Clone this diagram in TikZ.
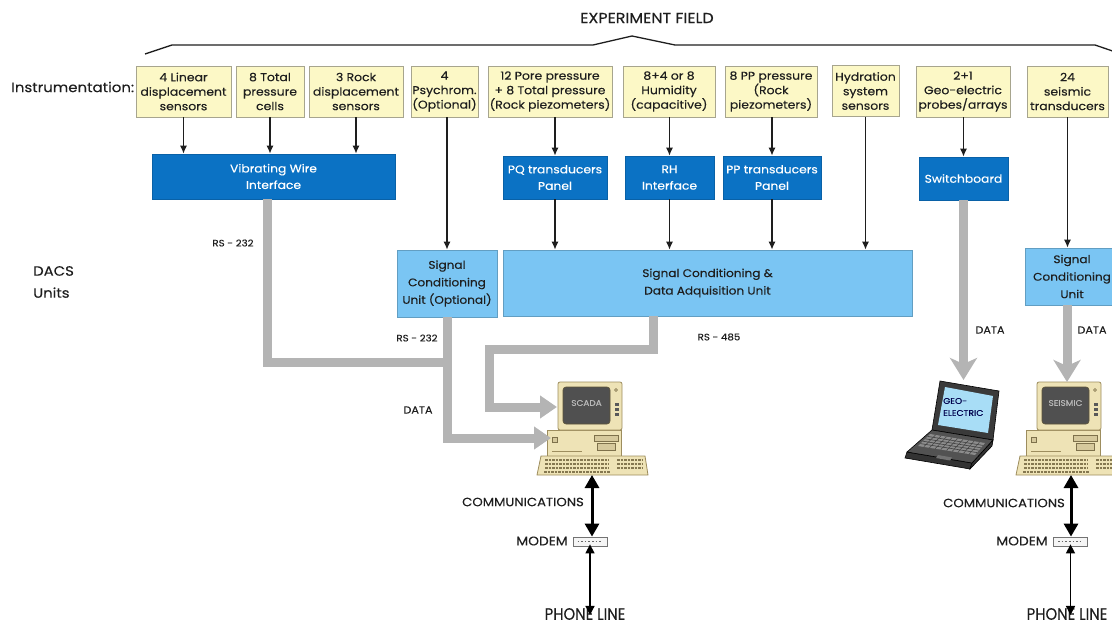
\documentclass[tikz,border=0pt]{standalone}
\usepackage{fontspec}
\setmainfont{Poppins}[FakeStretch=1.1,FakeBold=0.25]
\newfontfamily\narrowface{Poppins}[FakeStretch=0.9,FakeBold=0.25]
\usetikzlibrary{arrows.meta,calc}

\definecolor{ink}{HTML}{1E1E1E}
\definecolor{instfill}{HTML}{FCF8C6}
\definecolor{instedge}{HTML}{A7A58E}
\definecolor{darkblue}{HTML}{0B72C4}
\definecolor{lightblue}{HTML}{7AC5F3}
\definecolor{busgray}{HTML}{B4B4B4}
\definecolor{beige}{HTML}{EEE3B6}
\definecolor{beigeedge}{HTML}{9D8D5E}
\definecolor{screengray}{HTML}{505050}
\definecolor{lapbody}{HTML}{3A3A3A}
\definecolor{lapscreen}{HTML}{A8DDF6}

\newcommand\txtsize[2]{\fontsize{#1bp}{#2bp}\selectfont}

\tikzset{
  inst/.style={draw=instedge, fill=instfill, line width=0.9bp, inner sep=0pt,
    align=center, text=ink, font=\txtsize{11.3}{14.5}},
  darkbox/.style={draw=darkblue!85!black, fill=darkblue, line width=0.6bp, inner sep=0pt,
    align=center, text=white, font=\txtsize{11.2}{16.5}},
  lightbox/.style={draw=lightblue!80!black, fill=lightblue, line width=0.6bp, inner sep=0pt,
    align=center, text=ink, font=\txtsize{11}{17.5}},
  lbl/.style={text=ink, inner sep=0pt},
  wire/.style={draw=ink, line width=1.4bp, -{Latex[length=8bp,width=7bp]}},
  bus/.style={draw=busgray, line width=9bp},
  bush/.style={bus, -{Triangle[length=17bp,width=22bp]}},
  busv/.style={bus, -{Stealth[length=22bp,width=27bp,inset=6bp]}},
  comm/.style={draw=black, line width=3bp,
    {Triangle[length=13bp,width=14bp]}-{Triangle[length=13bp,width=14bp]}},
  phone/.style={draw=black, line width=1.5bp,
    {Triangle[length=9bp,width=9bp]}-{Triangle[length=9bp,width=9bp]}},
  modembox/.style={draw=black!55, fill=black!4, line width=0.8bp, inner sep=0pt,
    minimum width=34bp, minimum height=9bp},
  pcbody/.style={fill=beige, draw=beigeedge, line width=0.8bp},
  pcdetail/.style={fill=beige!70!beigeedge, draw=beigeedge!80!black, line width=0.5bp},
  keyrow/.style={draw=beigeedge!85!black, line width=2bp, dash pattern=on 2.5bp off 1bp},
  desktop/.pic={
    % system unit with drive bays and lamp
    \filldraw[pcbody] (-45,0) rectangle (29,28);
    \filldraw[pcdetail] (2,5) rectangle (26,11);
    \filldraw[pcdetail] (5,13) rectangle (23,20);
    \filldraw[pcdetail] (-40,7) rectangle (-35,12);
    \draw[beigeedge, line width=0.6bp] (-40,21) -- (-10,21);
    % monitor and screen
    \filldraw[pcbody, rounded corners=2bp] (-34,-48) rectangle (30,0);
    \filldraw[fill=screengray, draw=beigeedge!60!black, line width=0.6bp,
      rounded corners=3bp] (-29,-43) rectangle (18,-6);
    \node[text=white!72!black, font=\txtsize{8.1}{9}] at (-5.5,-27) {\tikzpictext};
    \filldraw[pcdetail] (24,-40) circle (1.5bp);
    \foreach \yy in {-27,-22,-17} \fill[black!65] (22.5,\yy) rectangle (26.5,\yy+3);
    % keyboard
    \filldraw[pcbody] (-51,26) -- (53,26) -- (56,45) -- (-55,45) -- cycle;
    \foreach \yy in {30,34,38} {
      \draw[keyrow] (-47,\yy) -- (17,\yy);
      \draw[keyrow] (25,\yy) -- (50,\yy);
    }
    \draw[keyrow] (-48,41.5) -- (18,41.5);
    \coordinate (-top) at (-4,-48);
    \coordinate (-upper) at (-35,-23);
    \coordinate (-lower) at (-41,8);
    \coordinate (-bottom) at (0,45);
  }
}

\begin{document}
\begin{tikzpicture}[x=1bp, y=-1bp]
\useasboundingbox (0,0) rectangle (1112,625);
\clip (0,0) rectangle (1112,625);

% ---------- headings ----------
\node[lbl, font=\txtsize{14.5}{16}] (field) at (647,18) {EXPERIMENT FIELD};
\draw[ink, line width=1.3bp, line join=round]
  (145,54) -- (172,45) -- (593,45) -- (632,36) -- (675,45) -- (1095,45) -- (1130,57);
\node[lbl, anchor=west, font=\txtsize{13.6}{16}] (instr) at (11,87) {Instrumentation:};
\node[lbl, anchor=west, align=left, font=\txtsize{13.5}{22}] (dacs) at (33,282) {DACS\\Units};

% ---------- instrumentation ----------
\node[inst, minimum width=95bp, minimum height=51bp] (b1) at (183.5,91.5) {4 Linear\\displacement\\sensors};
\node[inst, minimum width=68bp, minimum height=51bp] (b2) at (270,91.5) {8 Total\\pressure\\cells};
\node[inst, minimum width=94bp, minimum height=51bp] (b3) at (356,91.5) {3 Rock\\displacement\\sensors};
\node[inst, minimum width=67bp, minimum height=51bp] (b4) at (444.5,91.5) {4\\Psychrom.\\(Optional)};
\node[inst, minimum width=124bp, minimum height=51bp] (b5) at (550,91.5) {12 Pore pressure\\+ 8 Total pressure\\(Rock piezometers)};
\node[inst, minimum width=92bp, minimum height=51bp] (b6) at (669,91.5) {8+4 or 8\\Humidity\\(capacitive)};
\node[inst, minimum width=92bp, minimum height=51bp] (b7) at (771,91.5) {8 PP pressure\\(Rock\\piezometers)};
\node[inst, minimum width=67bp, minimum height=51bp] (b8) at (865.5,91) {Hydration\\system\\sensors};
\node[inst, minimum width=94bp, minimum height=51bp] (b9) at (963,91.5) {2+1\\Geo-electric\\probes/arrays};
\node[inst, minimum width=81bp, minimum height=51bp] (b10) at (1067.5,91.5) {24\\seismic\\transducers};

% ---------- interfaces ----------
\node[darkbox, minimum width=243bp, minimum height=45bp] (vwi) at (273.5,176.5) {Vibrating Wire\\Interface};
\node[darkbox, minimum width=104bp, minimum height=43bp] (pq) at (555,177.5) {PQ transducers\\Panel};
\node[darkbox, minimum width=89bp, minimum height=43bp] (rh) at (669.5,177.5) {RH\\Interface};
\node[darkbox, minimum width=98bp, minimum height=43bp] (pp) at (772,177.5) {PP transducers\\Panel};
\node[darkbox, minimum width=89bp, minimum height=43bp] (sw) at (963.5,178.5) {Switchboard};

% ---------- DACS units ----------
\node[lightbox, minimum width=100bp, minimum height=67bp] (scu) at (447,283.5) {Signal\\Conditioning\\Unit (Optional)};
\node[lightbox, minimum width=409bp, minimum height=66bp] (dau) at (707.5,283) {Signal Conditioning \&\\Data Adquisition Unit};
\node[lightbox, minimum width=94bp, minimum height=57bp] (scu2) at (1072,276.5) {Signal\\Conditioning\\Unit};

% ---------- sensor wiring ----------
\draw[wire] (b1.south) -- (b1.south |- vwi.north);
\draw[wire] (b2.south) -- (b2.south |- vwi.north);
\draw[wire] (b3.south) -- (b3.south |- vwi.north);
\draw[wire] (scu.north |- b4.south) -- (scu.north);
\draw[wire] (pq.north |- b5.south) -- (pq.north);
\draw[wire] (pq.south) -- (pq.south |- dau.north);
\draw[wire] (rh.north |- b6.south) -- (rh.north);
\draw[wire] (rh.south) -- (rh.south |- dau.north);
\draw[wire] (pp.north |- b7.south) -- (pp.north);
\draw[wire] (pp.south) -- (pp.south |- dau.north);
\draw[wire] (b8.south) -- (b8.south |- dau.north);
\draw[wire] (sw.north |- b9.south) -- (sw.north);
\draw[wire] (b10.south) -- (b10.south |- scu2.north);

% ---------- computers ----------
\pic[pic text=SCADA] (scada) at (592,430) {desktop};
\pic[pic text=SEISMIC] (seis) at (1071,430) {desktop};

% laptop
\coordinate (lap-top) at (963.5,380);
\filldraw[fill=lapbody, draw=black, line width=0.6bp]
  (940,381) -- (999,391) -- (993,440) -- (932,430) -- cycle;
\fill[lapscreen] (945,387) -- (993,396) -- (988,433) -- (938,425) -- cycle;
\node[anchor=west, align=left, text=black!70!blue, inner sep=0pt,
  font=\txtsize{8.3}{12}] (geo) at (943,407) {GEO-\\ELECTRIC};
\filldraw[fill=black!80, draw=black, line width=0.6bp]
  (907,452) -- (972,463) -- (970,469) -- (905,458) -- cycle;
\filldraw[fill=black!80, draw=black, line width=0.6bp]
  (993,440) -- (972,463) -- (970,469) -- (992,446) -- cycle;
\filldraw[fill=black!68, draw=black, line width=0.6bp]
  (932,430) -- (993,440) -- (972,463) -- (907,452) -- cycle;
\fill[black!45] (930,434) -- (985,443) -- (975,455) -- (918,446) -- cycle;
\foreach \t in {0.2,0.4,0.6,0.8}
  \draw[black!75, line width=0.6bp] ($(930,434)!\t!(918,446)$) -- ($(985,443)!\t!(975,455)$);
\foreach \t in {0.1,0.2,...,0.9}
  \draw[black!75, line width=0.5bp] ($(930,434)!\t!(985,443)$) -- ($(918,446)!\t!(975,455)$);
\fill[black!55] (938,455) -- (952,457.5) -- (950,460.5) -- (936,458) -- cycle;

% ---------- data links ----------
\coordinate (j1) at (447,362);
\coordinate (k3) at (489,349);
\draw[bus] ([xshift=-6.5bp]vwi.south) |- (j1);
\draw[bush] (scu.south) |- (scada-lower);
\draw[bush] ([xshift=-54.5bp]dau.south) |- (k3) |- (scada-upper);
\draw[busv] (sw.south) -- (lap-top);
\draw[busv] (scu2.south -| seis-top) -- (seis-top);

\node[lbl, font=\txtsize{9.3}{10}] (rs1) at (233,243) {RS - 232};
\node[lbl, font=\txtsize{9.3}{10}] (rs2) at (417,338) {RS - 232};
\node[lbl, font=\txtsize{9.3}{10}] (rs3) at (719,337) {RS - 485};
\node[lbl, font=\txtsize{10.2}{12}] (d1) at (418,410) {DATA};
\node[lbl, font=\txtsize{10.2}{12}] (d2) at (990,330) {DATA};
\node[lbl, font=\txtsize{10.2}{12}] (d3) at (1092,330) {DATA};

% ---------- communications ----------
\node[modembox] (m1) at (590,541.5) {};
\node[modembox] (m2) at (1070.5,541.5) {};
\draw[black!60, line width=1.6bp, dash pattern=on 1.6bp off 2bp]
  ([xshift=5bp]m1.west) -- ([xshift=-5bp]m1.east);
\draw[black!60, line width=1.6bp, dash pattern=on 1.6bp off 2bp]
  ([xshift=5bp]m2.west) -- ([xshift=-5bp]m2.east);
\node[lbl, font=\txtsize{12}{13}] (c1) at (523,502) {COMMUNICATIONS};
\node[lbl, font=\txtsize{12}{13}] (c2) at (1004,503) {COMMUNICATIONS};
\node[lbl, font=\txtsize{12.5}{13}] (mo1) at (542,541) {MODEM};
\node[lbl, font=\txtsize{12.5}{13}] (mo2) at (1022,541) {MODEM};
\node[lbl, font=\narrowface\txtsize{16.5}{17}] (ph1) at (585,614) {PHONE LINE};
\node[lbl, font=\narrowface\txtsize{16.5}{17}] (ph2) at (1067,614) {PHONE LINE};
\draw[comm] (scada-bottom) -- (scada-bottom |- m1.north);
\draw[comm] (seis-bottom) -- (seis-bottom |- m2.north);
\draw[phone] ([yshift=2bp]m1.south) -- ([yshift=-7bp]ph1.north -| m1.south);
\draw[phone] ([yshift=2bp]m2.south) -- ([yshift=-7bp]ph2.north -| m2.south);
\end{tikzpicture}
\end{document}
